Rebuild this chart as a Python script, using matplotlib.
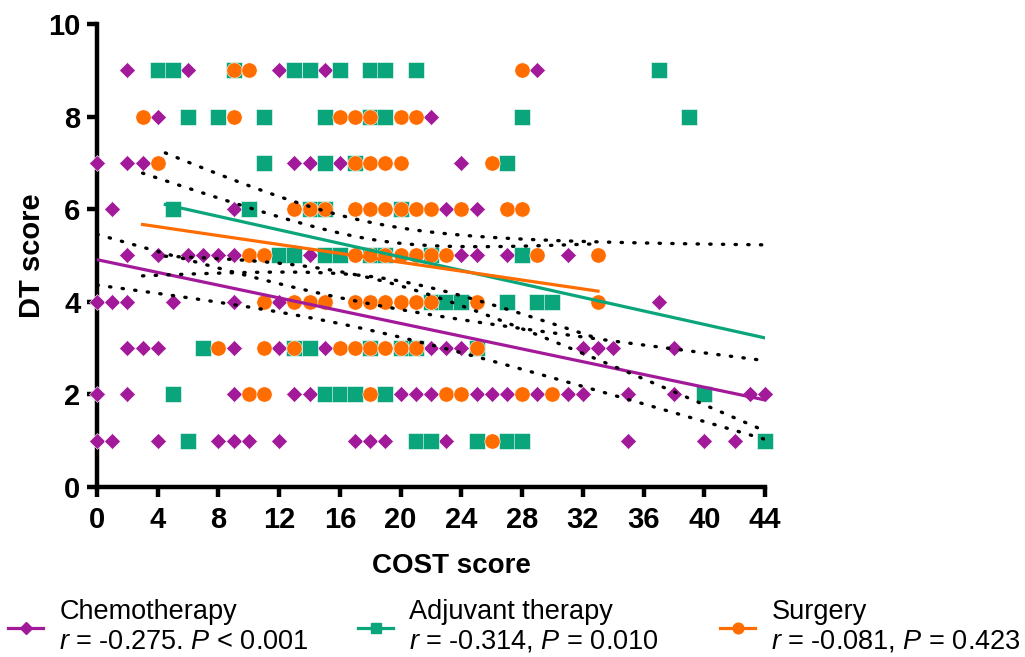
import numpy as np
import matplotlib
matplotlib.use("Agg")
import matplotlib.pyplot as plt
from matplotlib.lines import Line2D

plt.rcParams['font.family'] = ['Liberation Sans', 'DejaVu Sans']
plt.rcParams['mathtext.fontset'] = 'custom'
plt.rcParams['mathtext.it'] = 'Liberation Sans:italic'
plt.rcParams['mathtext.rm'] = 'Liberation Sans'

# COST score of each point, keyed by DT score
chemo_cost = {9: [2, 6, 12, 15, 29],
              8: [4, 22],
              7: [0, 2, 3, 13, 14, 16, 24],
              6: [1, 9, 23, 25],
              5: [2, 4, 6, 7, 8, 9, 14, 24, 25, 27, 31],
              4: [0, 1, 2, 5, 9, 12, 37],
              3: [2, 3, 4, 9, 12, 15, 22, 23, 24, 32, 33, 34, 38],
              2: [0, 2, 9, 13, 14, 20, 21, 22, 25, 26, 27, 29, 31, 32, 35, 38, 43, 44],
              1: [0, 1, 4, 8, 9, 10, 12, 17, 18, 19, 23, 35, 40, 42]}
adj_cost = {9: [4, 5, 9, 13, 14, 16, 18, 19, 21, 37],
            8: [6, 8, 11, 15, 18, 19, 28, 39],
            7: [11, 15, 17, 27],
            6: [5, 10, 14, 15, 20],
            5: [12, 13, 15, 16, 18, 19, 22, 28],
            4: [22, 23, 24, 27, 29, 30],
            3: [7, 13, 14, 18, 20, 21, 25],
            2: [5, 15, 16, 17, 19, 40],
            1: [6, 21, 22, 25, 27, 28, 44]}
surg_cost = {9: [9, 10, 28],
             8: [3, 9, 16, 17, 18, 20, 21],
             7: [4, 17, 18, 19, 20, 26],
             6: [13, 14, 15, 17, 18, 19, 20, 21, 22, 24, 27, 28],
             5: [10, 11, 17, 18, 19, 20, 21, 22, 23, 29, 33],
             4: [11, 13, 14, 15, 17, 18, 19, 20, 21, 22, 25, 33],
             3: [8, 11, 13, 16, 17, 18, 19, 20, 21, 25],
             2: [10, 11, 18, 23, 24, 28, 30],
             1: [26]}

# regression lines (ends)
chemo_fit_x = [0, 44]
chemo_fit_y = [4.91, 1.88]
adj_fit_x = [4.5, 44]
adj_fit_y = [6.10, 3.22]
surg_fit_x = [3, 33]
surg_fit_y = [5.67, 4.23]

# 95% band: x of narrowest point, half width there, half width at a reference x
chemo_band = [16.3, 0.28, 44, 0.85]
adj_band = [17.5, 0.60, 44, 2.01]
surg_band = [18.7, 0.40, 3, 1.11]

labels = ["Chemotherapy\n$r$ = -0.275. $P$ < 0.001",
          "Adjuvant therapy\n$r$ = -0.314, $P$ = 0.010",
          "Surgery\n$r$ = -0.081, $P$ = 0.423"]
colors = ['#A21A9A', '#0AA57B', '#FF6C00']
markers = ['D', 's', 'o']
msizes = [8.6, 11, 11]


def flat(d):
    xs, ys = [], []
    for k in d:
        xs += d[k]
        ys += [k] * len(d[k])
    return np.array(xs), np.array(ys)


fig = plt.figure(figsize=(10.25, 6.57), dpi=100)
ax = fig.add_axes([97 / 1025, 1 - 487 / 657, 668 / 1025, 463 / 657])

groups = [(chemo_cost, chemo_fit_x, chemo_fit_y, chemo_band),
          (adj_cost, adj_fit_x, adj_fit_y, adj_band),
          (surg_cost, surg_fit_x, surg_fit_y, surg_band)]

for i, (pts, fx, fy, band) in enumerate(groups):
    x, y = flat(pts)
    ax.plot(x, y, linestyle='none', marker=markers[i], ms=msizes[i],
            color=colors[i], mec='white', mew=0.4, clip_on=False, zorder=3 + i)
    xx = np.linspace(fx[0], fx[1], 100)
    line = np.interp(xx, fx, fy)
    xm, w0, xr, wr = band
    w = np.sqrt(w0 ** 2 + (wr ** 2 - w0 ** 2) * ((xx - xm) / (xr - xm)) ** 2)
    ax.plot(xx, line, color=colors[i], lw=2.3, zorder=7)
    for sgn in (1, -1):
        ax.plot(xx, line + sgn * w, color='black', lw=2.4,
                linestyle=(0, (0.4, 3.4)), dash_capstyle='round', zorder=8)

ax.set_xlim(0, 44)
ax.set_ylim(0, 10)
ax.set_xticks(np.arange(0, 45, 4))
ax.set_yticks(np.arange(0, 11, 2))
for s in ['top', 'right']:
    ax.spines[s].set_visible(False)
for s in ['left', 'bottom']:
    ax.spines[s].set_linewidth(3.2)
    ax.spines[s].set_capstyle('projecting')
ax.tick_params(width=3.2, length=7, labelsize=21, pad=5)
ax.tick_params(axis='x', pad=7)
for t in ax.get_xticklabels() + ax.get_yticklabels():
    t.set_fontweight('bold')
ax.set_xlabel('COST score', fontsize=20, fontweight='bold')
ax.set_ylabel('DT score', fontsize=21, fontweight='bold')
ax.xaxis.set_label_coords(0.531, -0.142)
ax.yaxis.set_label_coords(-0.076, 0.5)

# legend, one block per group
leg_x = [8 / 1025, 358 / 1025, 720 / 1025]
for i in range(3):
    h = Line2D([], [], color=colors[i], lw=2.3, marker=markers[i],
               ms=msizes[i] * 0.7)
    fig.legend([h], [labels[i]], loc='center left',
               bbox_to_anchor=(leg_x[i], 1 - 627 / 657), frameon=False,
               fontsize=19.5, handlelength=1.3, handletextpad=0.6,
               borderpad=0, borderaxespad=0)

fig.savefig('out.png', dpi=100)
